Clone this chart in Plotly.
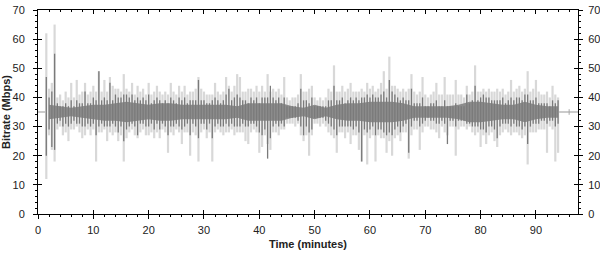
import numpy as np
import plotly.graph_objects as go

# time bins (minutes): 1.5 .. 94.0 every 0.5
T_START, T_STEP, N_BINS = 1.5, 0.5, 186
time_min = [T_START + i * T_STEP for i in range(N_BINS)]

# light-grey trace: per-bin high / low (Mbps)
light_hi = [
    62,43,45,65,40,41,39,42,40,45,
    40,46,41,42,45,41,42,44,42,49,
    42,46,42,47,44,43,43,42,48,43,
    42,45,41,44,42,43,41,45,41,42,
    44,42,41,42,41,45,42,41,44,42,
    44,41,42,42,43,47,43,42,41,41,
    41,45,42,41,42,47,44,42,44,48,
    47,42,42,43,43,42,44,42,44,42,
    48,42,43,42,43,41,47,40,39,40,
    40,41,48,42,42,43,44,40,39,40,
    39,40,43,42,51,42,42,44,42,43,
    45,42,42,42,43,42,45,43,44,42,
    43,45,49,43,54,44,44,43,42,43,
    42,43,48,42,41,42,47,41,40,41,
    42,45,41,41,47,41,41,41,46,41,
    41,40,44,41,42,51,42,42,43,42,
    43,42,42,43,42,43,41,42,46,42,
    43,44,42,43,49,42,43,46,42,41,
    41,42,40,44,41,40,
]
light_lo = [
    12,27,22,18,29,30,27,28,25,29,
    29,30,28,26,27,29,27,29,18,28,
    28,29,25,28,27,28,25,27,18,26,
    28,29,27,26,28,29,27,27,28,26,
    28,26,29,28,21,28,27,29,28,24,
    28,28,20,28,27,18,28,29,26,28,
    18,28,29,28,27,28,28,29,27,28,
    28,28,25,24,28,29,28,21,23,27,
    24,22,28,28,27,29,29,31,31,31,
    30,31,27,25,27,20,27,31,31,30,
    31,30,28,27,26,21,28,28,26,28,
    24,27,27,22,18,27,17,26,27,18,
    27,26,26,21,25,20,26,27,25,28,
    28,19,27,29,29,22,28,30,30,29,
    29,28,26,30,28,27,30,30,20,29,
    30,30,29,30,28,27,28,23,27,24,
    27,28,25,23,27,28,29,28,27,28,
    28,27,26,27,17,28,28,28,29,29,
    29,21,30,29,18,21,
]
# dark-grey trace: per-bin high / low (Mbps)
dark_hi = [
    47,40,42,55,38,37,37,38,37,39,
    37,39,38,38,42,38,38,40,39,49,
    39,40,39,45,39,41,40,40,41,41,
    40,41,39,40,39,40,39,41,38,39,
    40,39,38,39,38,40,39,38,40,39,
    40,38,39,39,39,46,39,39,38,38,
    39,40,39,38,39,41,43,39,40,41,
    40,39,39,38,40,39,40,38,40,40,
    40,44,40,39,40,38,40,37,37,37,
    37,38,43,39,39,38,40,37,37,37,
    37,37,39,39,44,39,39,40,38,39,
    40,39,40,39,40,40,41,40,41,40,
    40,41,42,40,46,42,41,40,39,40,
    39,39,43,38,38,38,40,37,37,38,
    38,39,37,37,39,37,37,37,38,37,
    37,37,41,38,39,44,39,40,41,40,
    40,39,39,39,39,40,38,39,40,39,
    40,40,39,41,41,39,39,40,38,38,
    38,38,37,39,38,39,
]
dark_lo = [
    20,29,23,22,31,32,30,31,30,31,
    32,31,31,30,30,31,30,31,27,30,
    31,30,30,30,31,30,28,30,25,29,
    30,31,30,27,31,31,30,30,31,29,
    31,29,31,30,27,30,30,31,30,29,
    30,31,27,31,30,26,31,31,29,31,
    26,30,31,30,30,31,30,31,30,30,
    30,31,30,30,31,31,30,28,27,29,
    19,26,30,31,30,31,30,33,33,33,
    33,32,30,27,30,28,29,33,33,33,
    33,32,31,30,29,27,30,30,30,30,
    30,29,30,28,18,29,28,29,30,27,
    29,29,28,27,28,27,29,30,28,30,
    31,21,30,32,32,30,31,32,33,32,
    32,31,31,32,31,24,32,32,30,32,
    32,32,31,31,30,30,30,29,29,28,
    30,30,29,26,30,31,31,31,30,31,
    30,30,29,30,24,30,31,31,31,32,
    32,31,32,32,30,31,
]
# dense core of the dark trace, read every 2 minutes (2 .. 94)
core_t = [2 * k for k in range(1, 48)]
core_hi = [
    37.5,37.0,36.5,37.0,37.5,37.5,38.0,38.5,38.0,37.5,
    38.0,38.0,37.5,37.5,37.5,37.5,37.5,37.0,38.0,38.0,
    38.0,38.0,37.0,36.5,37.5,36.5,37.5,38.0,38.0,38.5,
    38.5,38.5,38.0,37.0,37.0,37.0,37.0,37.5,38.5,38.5,
    38.0,37.5,37.5,38.5,37.5,37.0,37.0,
]
core_lo = [
    32.5,33.0,33.5,33.0,32.5,32.0,32.0,31.5,32.0,32.5,
    32.0,32.0,32.5,32.5,32.5,32.5,32.5,33.0,32.0,32.0,
    32.0,32.0,33.0,33.5,32.5,33.5,32.5,32.0,32.0,31.5,
    31.5,31.5,32.0,33.0,33.0,33.0,33.0,32.5,31.5,31.5,
    32.0,32.5,32.5,31.5,32.5,33.0,33.0,
]
# idle level before start and after end of the stream
flat_t = [0.0, 1.3, None, 94.0, 97.6]
flat_v = [35, 35, None, 35, 35]
point_t = [96.0]
point_v = [35]

X_RANGE = [0, 97.6]
Y_RANGE = [0, 70]


def segments(t, lo, hi):
    xs, ys = [], []
    for a, b, c in zip(t, lo, hi):
        xs += [a, a, None]
        ys += [b, c, None]
    return xs, ys


fig = go.Figure()
lx, ly = segments(time_min, light_lo, light_hi)
dx, dy = segments(time_min, dark_lo, dark_hi)
fig.add_trace(go.Scatter(x=flat_t, y=flat_v, mode="lines",
                         line=dict(color="#a8a8a8", width=1.2),
                         hoverinfo="skip", showlegend=False))
fig.add_trace(go.Scatter(x=lx, y=ly, mode="lines",
                         line=dict(color="#d8d8d8", width=2.2),
                         hoverinfo="skip", showlegend=False))
fig.add_trace(go.Scatter(x=core_t, y=core_lo, mode="lines",
                         line=dict(width=0, color="#8a8a8a"),
                         hoverinfo="skip", showlegend=False))
fig.add_trace(go.Scatter(x=core_t, y=core_hi, mode="lines", fill="tonexty",
                         fillcolor="#8c8c8c", line=dict(width=0, color="#8c8c8c"),
                         hoverinfo="skip", showlegend=False))
fig.add_trace(go.Scatter(x=dx, y=dy, mode="lines",
                         line=dict(color="#7a7a7a", width=1.3),
                         hoverinfo="skip", showlegend=False))
fig.add_trace(go.Scatter(x=point_t, y=point_v, mode="markers",
                         marker=dict(symbol="line-ns", size=4,
                                     line=dict(color="#a8a8a8", width=1)),
                         hoverinfo="skip", showlegend=False))
# overlay traces for inward tick halves / right axis
fig.add_trace(go.Scatter(x=[None], y=[None], xaxis="x2", yaxis="y2",
                         showlegend=False))
fig.add_trace(go.Scatter(x=[None], y=[None], xaxis="x3", yaxis="y3",
                         showlegend=False))
fig.add_trace(go.Scatter(x=[None], y=[None], xaxis="x3", yaxis="y4",
                         showlegend=False))

font = dict(family="Liberation Sans, Arial, sans-serif", size=11, color="#222222")
common_x = dict(range=X_RANGE, dtick=10, tick0=0, showgrid=False, zeroline=False,
                linecolor="black", linewidth=1, tickcolor="black", automargin=False)
common_y = dict(range=Y_RANGE, dtick=10, tick0=0, showgrid=False, zeroline=False,
                linecolor="black", linewidth=1, tickcolor="black", automargin=False)

fig.update_layout(
    width=600, height=254,
    margin=dict(l=38, r=22, t=10, b=40),
    paper_bgcolor="white", plot_bgcolor="white",
    font=font,
    xaxis=dict(**common_x, showline=True, mirror=True, ticks="outside", ticklen=4,
               minor=dict(dtick=2, ticks="outside", ticklen=2, tickcolor="black"),
               tickfont=font, ticklabelstandoff=2,
               title=dict(text="<b>Time (minutes)</b>", font=font, standoff=5)),
    yaxis=dict(**common_y, showline=True, mirror=True, ticks="outside", ticklen=4,
               minor=dict(dtick=2, ticks="outside", ticklen=2, tickcolor="black"),
               tickfont=font, ticklabelstandoff=6,
               title=dict(text="<b>Bitrate (Mbps)</b>", font=font, standoff=4)),
    xaxis2=dict(**common_x, overlaying="x", side="top", showline=False,
                ticks="inside", ticklen=4, showticklabels=False,
                minor=dict(dtick=2, ticks="inside", ticklen=2, tickcolor="black")),
    yaxis2=dict(**common_y, overlaying="y", side="right", showline=False,
                ticks="outside", ticklen=4, showticklabels=True, tickfont=font,
                ticklabelstandoff=3,
                minor=dict(dtick=2, ticks="outside", ticklen=2, tickcolor="black")),
    xaxis3=dict(**common_x, overlaying="x", side="bottom", showline=False,
                ticks="inside", ticklen=4, showticklabels=False),
    yaxis3=dict(**common_y, overlaying="y", side="left", showline=False,
                ticks="inside", ticklen=4, showticklabels=False),
    yaxis4=dict(**common_y, overlaying="y", side="right", showline=False,
                ticks="inside", ticklen=4, showticklabels=False),
)

fig.write_html("out.html")
